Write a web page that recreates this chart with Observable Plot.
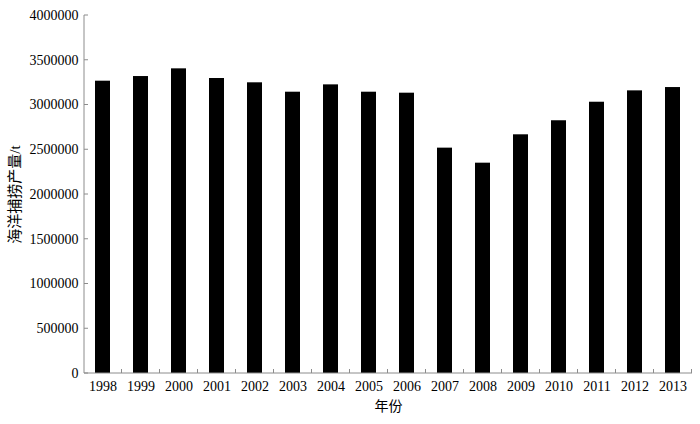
<!DOCTYPE html>
<html><head><meta charset="utf-8">
<script src="https://cdn.jsdelivr.net/npm/d3@7"></script>
<script src="https://cdn.jsdelivr.net/npm/@observablehq/plot@0.6"></script>
<style>body{margin:0;background:#fff}</style>
</head><body><div id="chart"></div>
<script>
const years = ["1998","1999","2000","2001","2002","2003","2004","2005","2006","2007","2008","2009","2010","2011","2012","2013"];
const catchTons = [3266000, 3318000, 3404000, 3296000, 3248000, 3143000, 3225000, 3143000, 3132000, 2518000, 2350000, 2667000, 2824000, 3031000, 3158000, 3195000];
const yTicks = [0, 500000, 1000000, 1500000, 2000000, 2500000, 3000000, 3500000, 4000000];
const xTitle = "年份";
const yTitle = "海洋捕捞产量/t";

const data = years.map((year, i) => ({year, value: catchTons[i]}));
const font = '"Liberation Serif", "Noto Sans CJK SC", serif';
const axisColor = "#8c8c8c";

function axisFrame(index, scales, values, dims) {
  const {x, y} = scales;
  const g = d3.create("svg:g").attr("stroke", axisColor).attr("fill", "none").attr("stroke-width", 1);
  const xl = dims.marginLeft, xr = dims.width - dims.marginRight;
  const y0 = y(0), yTop = y(yTicks[yTicks.length - 1]);
  const step = (xr - xl) / years.length;
  const tl = 4;
  g.append("line").attr("x1", xl).attr("x2", xl).attr("y1", yTop).attr("y2", y0);
  for (const t of yTicks) g.append("line").attr("x1", xl).attr("x2", xl + tl).attr("y1", y(t)).attr("y2", y(t));
  g.append("line").attr("x1", xl).attr("x2", xr).attr("y1", y0).attr("y2", y0);
  for (const yr of years) {
    const b = x(yr) + x.bandwidth() / 2 + step / 2;
    g.append("line").attr("x1", b).attr("x2", b).attr("y1", y0).attr("y2", y0 - tl);
  }
  return g.node();
}

const chart = Plot.plot({
  width: 700,
  height: 424,
  marginLeft: 84,
  marginRight: 8,
  marginTop: 15,
  marginBottom: 51,
  style: {fontFamily: font, fontSize: "14px", color: "#000", background: "#fff"},
  x: {domain: years, paddingInner: 0.6, paddingOuter: 0.3},
  y: {domain: [0, 4000000]},
  marks: [
    Plot.barY(data, {x: "year", y: "value", fill: "#000"}),
    Plot.axisY({ticks: yTicks, tickSize: 0, tickPadding: 6, tickFormat: d => String(d), fontSize: 14, label: null}),
    Plot.axisX({tickSize: 0, tickPadding: 8, fontSize: 14, label: null}),
    Plot.text([yTitle], {frameAnchor: "left", rotate: -90, dx: -69, textAnchor: "middle", lineAnchor: "middle", fontSize: 15, fill: "#000"}),
    Plot.text([xTitle], {frameAnchor: "bottom", dy: 33, textAnchor: "middle", lineAnchor: "middle", fontSize: 14, fill: "#000"}),
    axisFrame
  ]
});
document.getElementById("chart").appendChild(chart);
</script>
</body></html>
